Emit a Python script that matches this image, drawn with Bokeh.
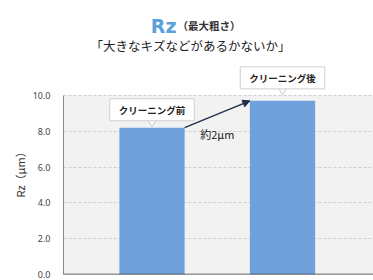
import math
from bokeh.plotting import figure
from bokeh.models import (Range1d, Label, Arrow, NormalHead, BoxAnnotation,
                          FixedTicker, PrintfTickFormatter, Span, Title)
from bokeh.embed import file_html
from bokeh.resources import INLINE

# ---- data ----
categories = ["クリーニング前", "クリーニング後"]
values = [8.2, 9.7]
y_ticks = [0, 2, 4, 6, 8, 10]
diff_label = "約2μm"
title_main = "Rz"
title_sub = "（最大粗さ）"
subtitle = "「大きなキズなどがあるかないか」"
y_label = "Rz（μm）"

# ---- layout ----
W, H = 373, 280
BL, BB = 63, 6
FW, FH = W - BL, H - BB
PXY = 17.9          # px per y unit
PXX = 130.5         # px per category step
FRAME_LEFT = BL
FRAME_BOTTOM = H - BB
BAR0_PX = 151.5

xs = list(range(len(categories)))
x0 = (FRAME_LEFT - BAR0_PX) / PXX
x1 = x0 + FW / PXX
y1 = FH / PXY


def dx(px):
    return (px - BAR0_PX) / PXX


def dy(py):
    return (FRAME_BOTTOM - py) / PXY


JP = "Noto Sans CJK JP"
BAR_COLOR = "#6fa2dc"

p = figure(width=W, height=H, x_range=Range1d(x0, x1), y_range=Range1d(0, y1),
           output_backend="svg", toolbar_location=None,
           min_border_left=BL, min_border_right=0, min_border_top=0,
           min_border_bottom=BB)
p.outline_line_color = None
p.background_fill_color = "white"
p.border_fill_color = "white"
p.xaxis.visible = False
p.xgrid.visible = False

p.ygrid.grid_line_color = "#cfcfcf"
p.ygrid.grid_line_dash = "3 2"
p.ygrid.grid_line_width = 1

# grey plotting band from 0 to the top tick
p.add_layout(BoxAnnotation(bottom=min(y_ticks), top=max(y_ticks), fill_color="#f2f2f2",
                           fill_alpha=1, line_color=None, level="image"))

ax = p.yaxis[0]
ax.ticker = FixedTicker(ticks=y_ticks)
ax.formatter = PrintfTickFormatter(format="%.1f")
ax.bounds = (min(y_ticks), max(y_ticks))
ax.axis_line_color = "#888888"
ax.major_tick_line_color = None
ax.minor_tick_line_color = None
ax.major_label_standoff = 7
ax.major_label_text_font = "Noto Sans"
ax.major_label_text_font_size = "9px"
ax.major_label_text_color = "#444444"

# vertical axis title, outside the tick labels, starting above the frame bottom
p.add_layout(Title(text=y_label, align="left", offset=77,
                   text_font=JP, text_font_size="11px", text_font_style="normal",
                   text_color="#333333", standoff=4), "left")

p.add_layout(Span(location=0, dimension="width", line_color="#333333", line_width=1.5))

p.vbar(x=xs, top=values, width=0.5, fill_color=BAR_COLOR, line_color=None)

# arrow between bars
p.add_layout(Arrow(end=NormalHead(size=7, fill_color="#1f2f4a", line_color="#1f2f4a"),
                   x_start=xs[0] + 0.25, y_start=values[0],
                   x_end=xs[1] - 0.25, y_end=values[1],
                   line_color="#1f2f4a", line_width=1.4))
p.add_layout(Label(x=(xs[0] + xs[1]) / 2, y=values[0], y_offset=-6, text=diff_label,
                   text_align="center", text_baseline="middle",
                   text_font=JP, text_font_size="11px", text_color="#222222"))

# callouts
offsets = [18, 23]
for i, (c, v) in enumerate(zip(categories, values)):
    off = offsets[i]
    p.scatter(x=[xs[i]], y=[v + (off - 12) / PXY], marker="inverted_triangle", size=9,
              fill_color="white", line_color="#cccccc")
    p.add_layout(Label(x=xs[i], y=v, y_offset=off, text=c, text_align="center",
                       text_baseline="middle", text_font=JP, text_font_size="9.5px",
                       text_font_style="bold", text_color="#222222",
                       background_fill_color="white", border_line_color="#d0d0d0",
                       padding=dict(left=9, right=9, top=4, bottom=4)))

# titles
p.add_layout(Label(x=dx(176), y=dy(25), text=title_main, text_align="right",
                   text_baseline="alphabetic", text_font="DejaVu Sans",
                   text_font_size="19px", text_font_style="bold", text_color="#5b9fdb"))
p.add_layout(Label(x=dx(177), y=dy(25), text=title_sub, text_align="left",
                   text_baseline="alphabetic", text_font=JP,
                   text_font_size="10.5px", text_font_style="bold", text_color="#333333"))
p.add_layout(Label(x=dx(190), y=dy(45), text=subtitle, text_align="center",
                   text_baseline="middle", text_font=JP,
                   text_font_size="12.5px", text_color="#222222"))

open("out.html", "w").write(file_html(p, INLINE))
